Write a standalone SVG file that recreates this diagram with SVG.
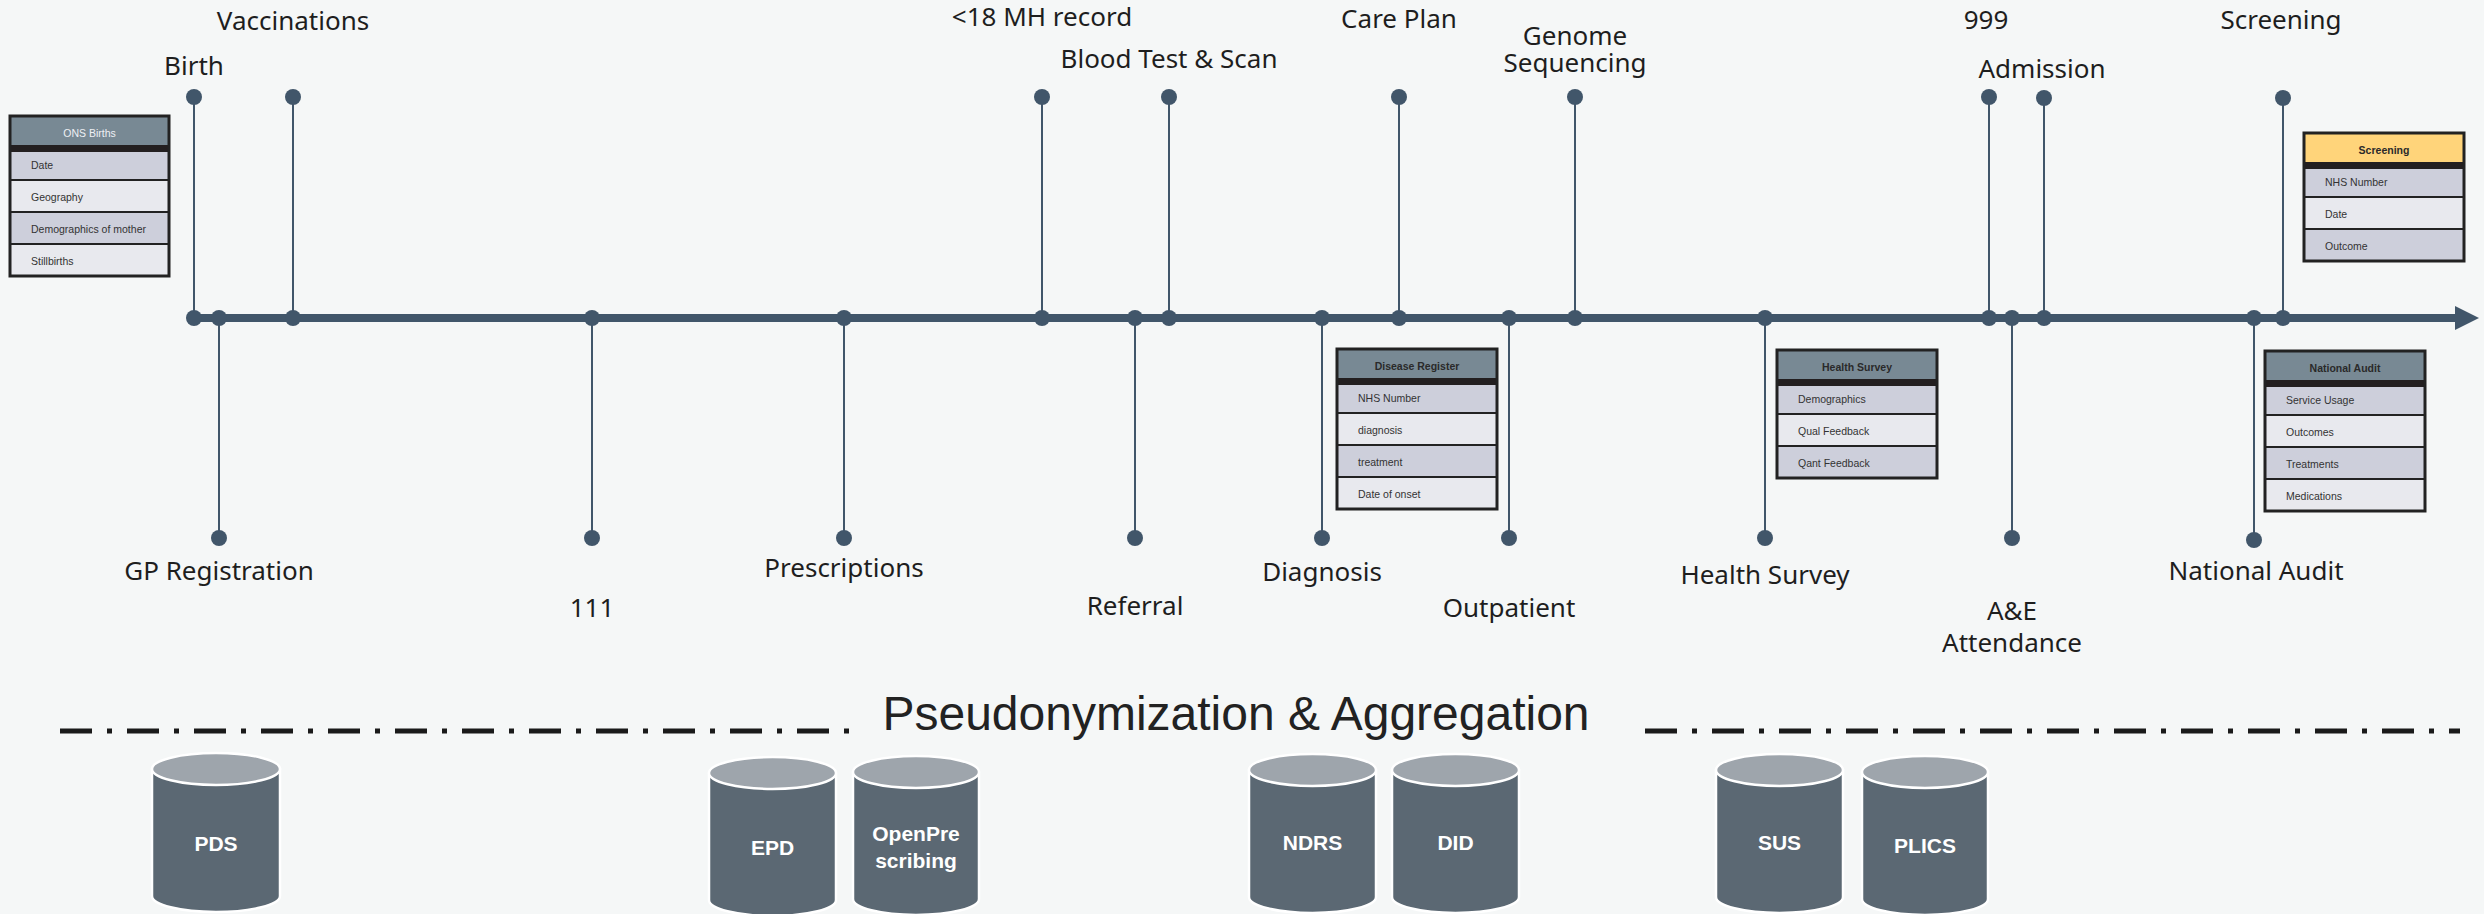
<svg xmlns="http://www.w3.org/2000/svg" width="2484" height="914" viewBox="0 0 2484 914">
<style>
.lbl{font-family:"Noto Sans",sans-serif;font-size:26px;fill:#1e1e1e;text-anchor:middle}
.stem{stroke:#41566a;stroke-width:2;fill:none}
.dot{fill:#41566a}
.axis{stroke:#41566a;stroke-width:8;fill:none}
.th{fill:#788994;stroke:#222;stroke-width:2}
.thy{fill:#ffd47a;stroke:#222;stroke-width:2}
.rd{fill:#cdcfdb;stroke:#222;stroke-width:2}
.rl{fill:#e8e9ee;stroke:#222;stroke-width:2}
.sep{fill:#231f20}
.outl{fill:none;stroke:#222;stroke-width:3}
.tt{font-family:"Liberation Sans",Arial,sans-serif;font-size:10.5px;fill:#333}
.tht{font-family:"Liberation Sans",Arial,sans-serif;font-size:10.5px;font-weight:bold;fill:#2a2a2a;text-anchor:middle}
.thw{font-family:"Liberation Sans",Arial,sans-serif;font-size:10.5px;fill:#eef0f4;text-anchor:middle}
.cyl{fill:#5b6873;stroke:#ffffff;stroke-width:2.5}
.cylt{fill:#9ea5ac;stroke:#ffffff;stroke-width:2.5}
.cl{font-family:"Liberation Sans",Arial,sans-serif;font-size:21px;font-weight:bold;fill:#ffffff;text-anchor:middle}
.dash{stroke:#1a1a1a;stroke-width:5;fill:none;stroke-dasharray:32 15 5 15}
.title{font-family:"Liberation Sans",Arial,sans-serif;font-size:48px;fill:#222;text-anchor:middle}
</style>
<rect width="2484" height="914" fill="#f5f7f7"/>

<g id="connectors">
  <line class="axis" x1="194" y1="318" x2="2456" y2="318"/>
  <polygon class="dot" points="2455,306 2479,318 2455,330"/>
  <line class="stem" x1="194" y1="97" x2="194" y2="318"/>
  <line class="stem" x1="293" y1="97" x2="293" y2="318"/>
  <line class="stem" x1="1042" y1="97" x2="1042" y2="318"/>
  <line class="stem" x1="1169" y1="97" x2="1169" y2="318"/>
  <line class="stem" x1="1399" y1="97" x2="1399" y2="318"/>
  <line class="stem" x1="1575" y1="97" x2="1575" y2="318"/>
  <line class="stem" x1="1989" y1="97" x2="1989" y2="318"/>
  <line class="stem" x1="2044" y1="98" x2="2044" y2="318"/>
  <line class="stem" x1="2283" y1="98" x2="2283" y2="318"/>
  <line class="stem" x1="219" y1="318" x2="219" y2="538"/>
  <line class="stem" x1="592" y1="318" x2="592" y2="538"/>
  <line class="stem" x1="844" y1="318" x2="844" y2="538"/>
  <line class="stem" x1="1135" y1="318" x2="1135" y2="538"/>
  <line class="stem" x1="1322" y1="318" x2="1322" y2="538"/>
  <line class="stem" x1="1509" y1="318" x2="1509" y2="538"/>
  <line class="stem" x1="1765" y1="318" x2="1765" y2="538"/>
  <line class="stem" x1="2012" y1="318" x2="2012" y2="538"/>
  <line class="stem" x1="2254" y1="318" x2="2254" y2="540"/>
</g>

<g id="ev-birth"><circle class="dot" cx="194" cy="97" r="8"/><circle class="dot" cx="194" cy="318" r="8"/><text class="lbl" x="194" y="75">Birth</text></g>
<g id="ev-vacc"><circle class="dot" cx="293" cy="97" r="8"/><circle class="dot" cx="293" cy="318" r="8"/><text class="lbl" x="293" y="30">Vaccinations</text></g>
<g id="ev-mh"><circle class="dot" cx="1042" cy="97" r="8"/><circle class="dot" cx="1042" cy="318" r="8"/><text class="lbl" x="1042" y="26">&lt;18 MH record</text></g>
<g id="ev-blood"><circle class="dot" cx="1169" cy="97" r="8"/><circle class="dot" cx="1169" cy="318" r="8"/><text class="lbl" x="1169" y="68">Blood Test &amp; Scan</text></g>
<g id="ev-care"><circle class="dot" cx="1399" cy="97" r="8"/><circle class="dot" cx="1399" cy="318" r="8"/><text class="lbl" x="1399" y="28">Care Plan</text></g>
<g id="ev-genome"><circle class="dot" cx="1575" cy="97" r="8"/><circle class="dot" cx="1575" cy="318" r="8"/><text class="lbl" x="1575" y="45">Genome</text><text class="lbl" x="1575" y="72">Sequencing</text></g>
<g id="ev-999"><circle class="dot" cx="1989" cy="97" r="8"/><circle class="dot" cx="1989" cy="318" r="8"/><text class="lbl" x="1986" y="29">999</text></g>
<g id="ev-adm"><circle class="dot" cx="2044" cy="98" r="8"/><circle class="dot" cx="2044" cy="318" r="8"/><text class="lbl" x="2042" y="78">Admission</text></g>
<g id="ev-screen"><circle class="dot" cx="2283" cy="98" r="8"/><circle class="dot" cx="2283" cy="318" r="8"/><text class="lbl" x="2281" y="29">Screening</text></g>

<g id="ev-gp"><circle class="dot" cx="219" cy="318" r="8"/><circle class="dot" cx="219" cy="538" r="8"/><text class="lbl" x="219" y="580">GP Registration</text></g>
<g id="ev-111"><circle class="dot" cx="592" cy="318" r="8"/><circle class="dot" cx="592" cy="538" r="8"/><text class="lbl" x="592" y="617">111</text></g>
<g id="ev-presc"><circle class="dot" cx="844" cy="318" r="8"/><circle class="dot" cx="844" cy="538" r="8"/><text class="lbl" x="844" y="577">Prescriptions</text></g>
<g id="ev-ref"><circle class="dot" cx="1135" cy="318" r="8"/><circle class="dot" cx="1135" cy="538" r="8"/><text class="lbl" x="1135" y="615">Referral</text></g>
<g id="ev-diag"><circle class="dot" cx="1322" cy="318" r="8"/><circle class="dot" cx="1322" cy="538" r="8"/><text class="lbl" x="1322" y="581">Diagnosis</text></g>
<g id="ev-outp"><circle class="dot" cx="1509" cy="318" r="8"/><circle class="dot" cx="1509" cy="538" r="8"/><text class="lbl" x="1509" y="617">Outpatient</text></g>
<g id="ev-hs"><circle class="dot" cx="1765" cy="318" r="8"/><circle class="dot" cx="1765" cy="538" r="8"/><text class="lbl" x="1765" y="584">Health Survey</text></g>
<g id="ev-ae"><circle class="dot" cx="2012" cy="318" r="8"/><circle class="dot" cx="2012" cy="538" r="8"/><text class="lbl" x="2012" y="620">A&amp;E</text><text class="lbl" x="2012" y="652">Attendance</text></g>
<g id="ev-na"><circle class="dot" cx="2254" cy="318" r="8"/><circle class="dot" cx="2254" cy="540" r="8"/><text class="lbl" x="2256" y="580">National Audit</text></g>

<g id="tbl-ons" transform="translate(10,116)">
  <rect class="th" x="0" y="0" width="159" height="32"/>
  <rect class="rd" x="0" y="32" width="159" height="32"/>
  <rect class="rl" x="0" y="64" width="159" height="32"/>
  <rect class="rd" x="0" y="96" width="159" height="32"/>
  <rect class="rl" x="0" y="128" width="159" height="32"/>
  <rect class="sep" x="0" y="29" width="159" height="7"/>
  <rect class="outl" x="0" y="0" width="159" height="160"/>
  <text class="thw" x="79.5" y="21">ONS Births</text>
  <text class="tt" x="21" y="53">Date</text>
  <text class="tt" x="21" y="85">Geography</text>
  <text class="tt" x="21" y="117">Demographics  of  mother</text>
  <text class="tt" x="21" y="149">Stillbirths</text>
</g>

<g id="tbl-disease" transform="translate(1337,349)">
  <rect class="th" x="0" y="0" width="160" height="32"/>
  <rect class="rd" x="0" y="32" width="160" height="32"/>
  <rect class="rl" x="0" y="64" width="160" height="32"/>
  <rect class="rd" x="0" y="96" width="160" height="32"/>
  <rect class="rl" x="0" y="128" width="160" height="32"/>
  <rect class="sep" x="0" y="29" width="160" height="7"/>
  <rect class="outl" x="0" y="0" width="160" height="160"/>
  <text class="tht" x="80" y="21">Disease  Register</text>
  <text class="tt" x="21" y="53">NHS Number</text>
  <text class="tt" x="21" y="85">diagnosis</text>
  <text class="tt" x="21" y="117">treatment</text>
  <text class="tt" x="21" y="149">Date of onset</text>
</g>

<g id="tbl-health" transform="translate(1777,350)">
  <rect class="th" x="0" y="0" width="160" height="32"/>
  <rect class="rd" x="0" y="32" width="160" height="32"/>
  <rect class="rl" x="0" y="64" width="160" height="32"/>
  <rect class="rd" x="0" y="96" width="160" height="32"/>
  <rect class="sep" x="0" y="29" width="160" height="7"/>
  <rect class="outl" x="0" y="0" width="160" height="128"/>
  <text class="tht" x="80" y="21">Health  Survey</text>
  <text class="tt" x="21" y="53">Demographics</text>
  <text class="tt" x="21" y="85">Qual  Feedback</text>
  <text class="tt" x="21" y="117">Qant  Feedback</text>
</g>

<g id="tbl-screening" transform="translate(2304,133)">
  <rect class="thy" x="0" y="0" width="160" height="32"/>
  <rect class="rd" x="0" y="32" width="160" height="32"/>
  <rect class="rl" x="0" y="64" width="160" height="32"/>
  <rect class="rd" x="0" y="96" width="160" height="32"/>
  <rect class="sep" x="0" y="29" width="160" height="7"/>
  <rect class="outl" x="0" y="0" width="160" height="128"/>
  <text class="tht" x="80" y="21">Screening</text>
  <text class="tt" x="21" y="53">NHS Number</text>
  <text class="tt" x="21" y="85">Date</text>
  <text class="tt" x="21" y="117">Outcome</text>
</g>

<g id="tbl-audit" transform="translate(2265,351)">
  <rect class="th" x="0" y="0" width="160" height="32"/>
  <rect class="rd" x="0" y="32" width="160" height="32"/>
  <rect class="rl" x="0" y="64" width="160" height="32"/>
  <rect class="rd" x="0" y="96" width="160" height="32"/>
  <rect class="rl" x="0" y="128" width="160" height="32"/>
  <rect class="sep" x="0" y="29" width="160" height="7"/>
  <rect class="outl" x="0" y="0" width="160" height="160"/>
  <text class="tht" x="80" y="21">National  Audit</text>
  <text class="tt" x="21" y="53">Service  Usage</text>
  <text class="tt" x="21" y="85">Outcomes</text>
  <text class="tt" x="21" y="117">Treatments</text>
  <text class="tt" x="21" y="149">Medications</text>
</g>

<g id="divider">
  <line class="dash" x1="60" y1="731" x2="862" y2="731"/>
  <line class="dash" x1="1645" y1="731" x2="2460" y2="731"/>
  <text class="title" x="1236" y="730">Pseudonymization &amp; Aggregation</text>
</g>

<g id="db-pds">
  <path class="cyl" d="M152,769 V896 A64,16 0 0 0 280,896 V769 Z"/>
  <ellipse class="cylt" cx="216" cy="769" rx="64" ry="16"/>
  <text class="cl" x="216" y="851">PDS</text>
</g>
<g id="db-epd">
  <path class="cyl" d="M709,773 V900 A63.5,16 0 0 0 836,900 V773 Z"/>
  <ellipse class="cylt" cx="772.5" cy="773" rx="63.5" ry="16"/>
  <text class="cl" x="772.5" y="855">EPD</text>
</g>
<g id="db-openpre">
  <path class="cyl" d="M853,772 V899 A63,16 0 0 0 979,899 V772 Z"/>
  <ellipse class="cylt" cx="916" cy="772" rx="63" ry="16"/>
  <text class="cl" x="916" y="841">OpenPre</text>
  <text class="cl" x="916" y="868">scribing</text>
</g>
<g id="db-ndrs">
  <path class="cyl" d="M1249,770 V897 A63.5,16 0 0 0 1376,897 V770 Z"/>
  <ellipse class="cylt" cx="1312.5" cy="770" rx="63.5" ry="16"/>
  <text class="cl" x="1312.5" y="850">NDRS</text>
</g>
<g id="db-did">
  <path class="cyl" d="M1392,770 V897 A63.5,16 0 0 0 1519,897 V770 Z"/>
  <ellipse class="cylt" cx="1455.5" cy="770" rx="63.5" ry="16"/>
  <text class="cl" x="1455.5" y="850">DID</text>
</g>
<g id="db-sus">
  <path class="cyl" d="M1716,770 V897 A63.5,16 0 0 0 1843,897 V770 Z"/>
  <ellipse class="cylt" cx="1779.5" cy="770" rx="63.5" ry="16"/>
  <text class="cl" x="1779.5" y="850">SUS</text>
</g>
<g id="db-plics">
  <path class="cyl" d="M1862,772 V899 A63,16 0 0 0 1988,899 V772 Z"/>
  <ellipse class="cylt" cx="1925" cy="772" rx="63" ry="16"/>
  <text class="cl" x="1925" y="853">PLICS</text>
</g>
</svg>
